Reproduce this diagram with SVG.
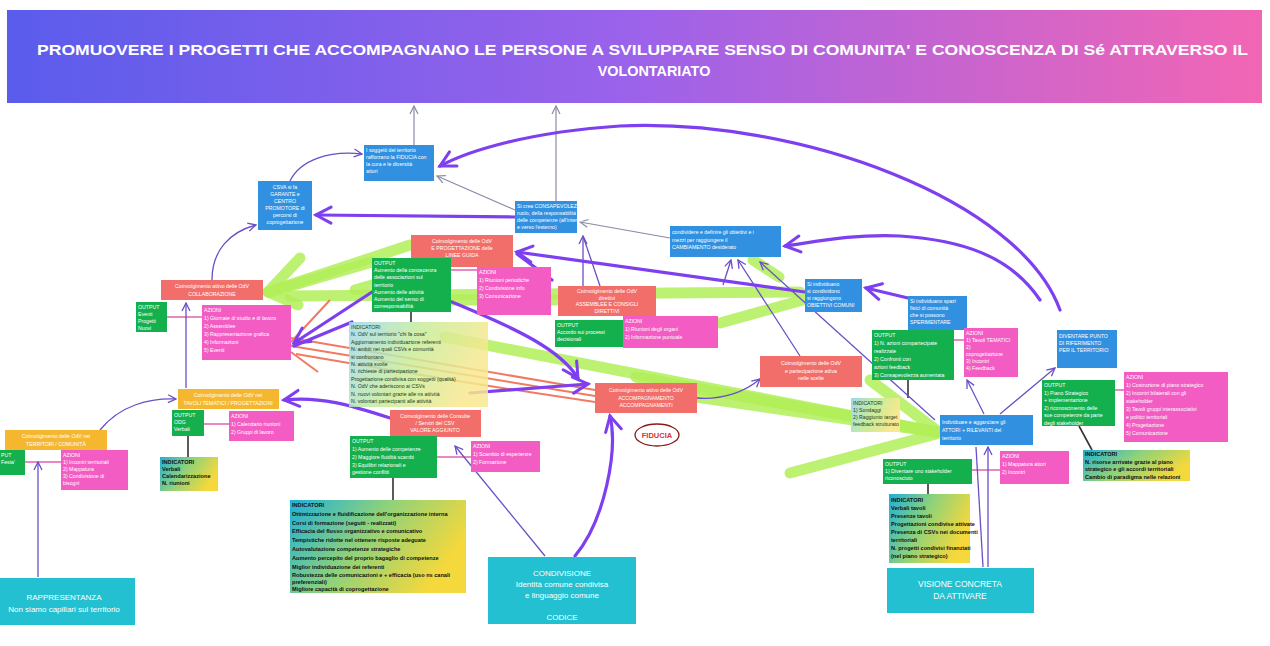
<svg xmlns="http://www.w3.org/2000/svg" width="1270" height="646" viewBox="0 0 1270 646">
<style>
.tw{font-family:"Liberation Sans",Arial,sans-serif;font-size:5.2px;fill:#fff}
.tk{font-family:"Liberation Sans",Arial,sans-serif;font-size:5.2px;fill:#1c3a20}
.tb{font-family:"Liberation Sans",Arial,sans-serif;font-size:5.6px;fill:#111;font-weight:bold}
.c{text-anchor:middle}
.blue{fill:#3190e0}.red{fill:#f26e6a}.org{fill:#f5b730}.grn{fill:#13b04d}.pnk{fill:#f35cc3}.teal{fill:#22c0d0}
.pt{fill:none;stroke:#7d3ff0;stroke-width:3.2;stroke-linecap:round}
.pn{fill:none;stroke:#6a4fc8;stroke-width:1.3}
.gy{fill:none;stroke:#8a8aa8;stroke-width:1.2}
.gr{fill:none;stroke:#b2ef58;stroke-width:11;stroke-linecap:round;opacity:.85}
.rd{fill:none;stroke:#f07a62;stroke-width:2}
.lk{stroke:#e060b0;stroke-width:1.5}
.dk{stroke:#333;stroke-width:1.6}
</style>
<defs>
<linearGradient id="hdr" x1="0" y1="0" x2="1" y2="0"><stop offset="0" stop-color="#5a5cec"/><stop offset="0.5" stop-color="#9c62ea"/><stop offset="1" stop-color="#f266b4"/></linearGradient>
<linearGradient id="ind" x1="0" y1="0" x2="1" y2="0.4"><stop offset="0" stop-color="#1fb0d8"/><stop offset="0.5" stop-color="#8fd27a"/><stop offset="1" stop-color="#f4d83c"/></linearGradient>
<linearGradient id="indl" x1="0" y1="0" x2="1" y2="0.3"><stop offset="0" stop-color="#9fd8ee"/><stop offset="0.5" stop-color="#c8ec9a"/><stop offset="1" stop-color="#f8e890"/></linearGradient>
<marker id="mb" viewBox="0 0 20 20" refX="17" refY="10" markerWidth="20" markerHeight="20" markerUnits="userSpaceOnUse" orient="auto"><path d="M2,2 L17,10 L2,18" fill="none" stroke="#7d3ff0" stroke-width="3" stroke-linecap="round"/></marker>
<marker id="ms" viewBox="0 0 10 10" refX="9" refY="5" markerWidth="10" markerHeight="10" markerUnits="userSpaceOnUse" orient="auto"><path d="M1,1 L9,5 L1,9" fill="none" stroke="#6a4fc8" stroke-width="1.3"/></marker>
<marker id="mg" viewBox="0 0 10 10" refX="9" refY="5" markerWidth="10" markerHeight="10" markerUnits="userSpaceOnUse" orient="auto"><path d="M1,1 L9,5 L1,9" fill="none" stroke="#8a8aa8" stroke-width="1.2"/></marker>
</defs>
<rect width="1270" height="646" fill="#fff"/>

<g id="header">
<rect x="7" y="10" width="1255" height="93" fill="url(#hdr)"/>
<text x="37" y="55" textLength="1211" lengthAdjust="spacingAndGlyphs" font-family="Liberation Sans, Arial, sans-serif" font-size="14.4" font-weight="bold" fill="#fff">PROMUOVERE I PROGETTI CHE ACCOMPAGNANO LE PERSONE A SVILUPPARE SENSO DI COMUNITA' E CONOSCENZA DI Sé ATTRAVERSO IL</text>
<text x="654" y="76" text-anchor="middle" font-family="Liberation Sans, Arial, sans-serif" font-size="14.4" font-weight="bold" fill="#fff">VOLONTARIATO</text>
</g>

<g id="connectors">
<path class="gr" d="M410,245 L268,292"/>
<path class="gr" d="M372,262 L270,292"/>
<path class="gr" d="M268,292 L300,258 M268,292 L298,305"/>
<path class="gr" d="M290,296 L800,292"/>
<path class="gr" d="M450,300 L555,300"/>
<path class="gr" d="M720,323 L803,300"/>
<path class="gr" d="M445,337 L936,432"/>
<path class="gr" d="M636,377 L936,432"/>
<path class="gr" d="M696,397 L936,432"/>
<path class="gr" d="M870,380 L936,430"/>
<path class="gr" d="M790,473 L936,434"/>
<path class="gr" d="M753,260 L779,277"/>
<path class="gr" d="M430,268 L355,290"/>
<path class="rd" d="M291,338 L595,390"/>
<path class="rd" d="M291,346 L595,396"/>
<path class="rd" d="M296,354 C400,372 500,388 595,402"/>
<path class="rd" d="M291,342 L330,300" stroke-width="3"/>
<path class="rd" d="M291,352 L318,372" stroke-width="3"/>
<line class="lk" x1="167" y1="317" x2="202" y2="317"/>
<line class="lk" x1="204" y1="424" x2="229" y2="424"/>
<line class="lk" x1="25" y1="462" x2="61" y2="462"/>
<line class="lk" x1="437" y1="457" x2="471" y2="457"/>
<line class="lk" x1="1115" y1="390" x2="1124" y2="390"/>
<line class="lk" x1="972" y1="470" x2="1000" y2="470"/>
<line class="lk" x1="451" y1="270" x2="477" y2="270"/>
<line class="lk" x1="954" y1="340" x2="964" y2="340"/>
<line class="dk" x1="411" y1="312" x2="411" y2="322"/>
<line class="dk" x1="188" y1="436" x2="188" y2="457"/>
<line class="dk" x1="393" y1="478" x2="393" y2="500"/>
<line class="dk" x1="1079" y1="426" x2="1092" y2="450" stroke-width="3"/>
<line class="dk" x1="928" y1="484" x2="928" y2="494"/>
<line class="dk" x1="908" y1="380" x2="908" y2="398"/>
<path class="gy" d="M414,145 L414,106" marker-end="url(#mg)"/>
<path class="gy" d="M556,201 L556,106" marker-end="url(#mg)"/>
<path class="gy" d="M515,210 L437,176" marker-end="url(#mg)"/>
<path class="gy" d="M670,238 L580,222" marker-end="url(#mg)"/>
<path class="pn" d="M583,286 L583,236" marker-end="url(#ms)"/>
<path class="pn" d="M600,286 L583,236"/>
<path class="pn" d="M800,356 L738,260" marker-end="url(#ms)"/>
<path class="pn" d="M723,285 L731,260" marker-end="url(#ms)"/>
<path class="pn" d="M935,420 L760,262" marker-end="url(#ms)"/>
<path class="pn" d="M1000,414 L1055,368" marker-end="url(#ms)"/>
<path class="pn" d="M984,414 L967,380" marker-end="url(#ms)"/>
<path class="pn" d="M697,398 C722,400 745,392 760,379" marker-end="url(#ms)"/>
<path class="pn" d="M290,181 C300,160 330,150 362,154" marker-end="url(#ms)" stroke-width="1.8"/>
<path class="pn" d="M212,280 C212,250 230,232 256,225" marker-end="url(#ms)" stroke-width="1.8"/>
<path class="pn" d="M186,388 L186,303" marker-end="url(#ms)" stroke-width="1.8"/>
<path class="pn" d="M100,430 C120,405 150,398 176,399" marker-end="url(#ms)" stroke-width="1.8"/>
<path class="pn" d="M38,577 L38,462" marker-end="url(#ms)" stroke-width="2"/>
<path class="pn" d="M988,567 L988,447" marker-end="url(#ms)" stroke-width="2"/>
<path class="pn" d="M983,567 L976,447" stroke-width="1.5"/>
<path class="pn" d="M545,556 L455,446" marker-end="url(#ms)" stroke-width="2"/>
<path class="pn" d="M640,310 L660,342"/>
<path class="pt" d="M1060,310 C1020,200 800,118 620,126 C530,132 470,150 440,166" marker-end="url(#mb)"/>
<path class="pt" d="M1040,300 C1010,255 960,240 900,236 C850,234 815,242 785,246" marker-end="url(#mb)"/>
<path class="pt" d="M515,217 L316,215" marker-end="url(#mb)"/>
<path class="pt" d="M805,292 L517,252" marker-end="url(#mb)" stroke-width="2.4"/>
<path class="pt" d="M552,280 L517,254" stroke-width="3"/>
<path class="pt" d="M908,298 L866,288" marker-end="url(#mb)"/>
<path class="pt" d="M452,302 C520,330 560,350 578,378" marker-end="url(#mb)"/>
<path class="pt" d="M470,393 L588,384" marker-end="url(#mb)"/>
<path class="pt" d="M372,292 L294,343" marker-end="url(#mb)"/>
<path class="pt" d="M352,322 L294,346"/>
<path class="pt" d="M390,418 C350,405 320,396 284,400" marker-end="url(#mb)" stroke-width="2.2"/>
<path class="pt" d="M575,556 C605,520 618,450 610,416" marker-end="url(#mb)" stroke-width="2.4"/>
</g>

<g id="n_csva"><rect class="blue" x="258" y="181" width="54" height="49"/>
<text class="tw c" x="285" y="189"><tspan x="285">CSVA si fa</tspan><tspan x="285" dy="7">GARANTE e</tspan><tspan x="285" dy="7">CENTRO</tspan><tspan x="285" dy="7">PROMOTORE di</tspan><tspan x="285" dy="7">percorsi di</tspan><tspan x="285" dy="7">coprogettazione</tspan></text></g>

<g id="n_soggetti"><rect class="blue" x="364" y="145" width="70" height="36"/>
<text class="tw" x="366" y="152"><tspan x="366">I soggetti del territorio</tspan><tspan x="366" dy="7">rafforzano la FIDUCIA con</tspan><tspan x="366" dy="7">la cura e le diversità</tspan><tspan x="366" dy="7">attori</tspan></text></g>

<g id="n_crea"><rect class="blue" x="515" y="201" width="62" height="32"/>
<text class="tw" x="517" y="208" font-size="3.9"><tspan x="517">Si crea CONSAPEVOLEZZA del</tspan><tspan x="517" dy="7">ruolo, della responsabilità e</tspan><tspan x="517" dy="7">delle competenze (all'interno</tspan><tspan x="517" dy="7">e verso l'esterno)</tspan></text></g>

<g id="n_condividere"><rect class="blue" x="670" y="226" width="111" height="31"/>
<text class="tw" x="672" y="234" font-size="5.6"><tspan x="672">condividere e definire gli obiettivi e i</tspan><tspan x="672" dy="7.5">mezzi per raggiungere il</tspan><tspan x="672" dy="7.5">CAMBIAMENTO desiderato</tspan></text></g>

<g id="n_obiettivi"><rect class="blue" x="805" y="279" width="57" height="33"/>
<text class="tw" x="807" y="286"><tspan x="807">Si individuano</tspan><tspan x="807" dy="7">si condividono</tspan><tspan x="807" dy="7">si raggiungono</tspan><tspan x="807" dy="7">OBIETTIVI COMUNI</tspan></text></g>

<g id="n_spazi"><rect class="blue" x="908" y="296" width="59" height="34"/>
<text class="tw" x="910" y="303"><tspan x="910">Si individuano spazi</tspan><tspan x="910" dy="7">fisici di comunità</tspan><tspan x="910" dy="7">che si possono</tspan><tspan x="910" dy="7">SPERIMENTARE</tspan></text></g>

<g id="n_diventare"><rect class="blue" x="1057" y="330" width="60" height="38"/>
<text class="tw" x="1059" y="338"><tspan x="1059">DIVENTARE PUNTO</tspan><tspan x="1059" dy="7">DI RIFERIMENTO</tspan><tspan x="1059" dy="7">PER IL TERRITORIO</tspan></text></g>

<g id="n_attori"><rect class="blue" x="940" y="415" width="93" height="30"/>
<text class="tw" x="942" y="424" font-size="5.8"><tspan x="942">Individuare e agganciare gli</tspan><tspan x="942" dy="8">ATTORI + RILEVANTI del</tspan><tspan x="942" dy="8">territorio</tspan></text></g>

<g id="r_collab"><rect class="red" x="161" y="280" width="102" height="20"/>
<text class="tw c" x="212" y="288"><tspan x="212">Coinvolgimento attivo delle OdV</tspan><tspan x="212" dy="7.5">COLLABORAZIONE</tspan></text></g>

<g id="r_linee"><rect class="red" x="411" y="235" width="102" height="32"/>
<text class="tw c" x="462" y="243"><tspan x="462">Coinvolgimento delle OdV</tspan><tspan x="462" dy="7">E PROGETTAZIONE delle</tspan><tspan x="462" dy="7">LINEE GUIDA</tspan></text></g>

<g id="r_direttivi"><rect class="red" x="558" y="286" width="98" height="30"/>
<text class="tw c" x="607" y="293"><tspan x="607">Coinvolgimento delle OdV</tspan><tspan x="607" dy="6.5">direttivi</tspan><tspan x="607" dy="6.5">ASSEMBLEE E CONSIGLI</tspan><tspan x="607" dy="6.5">DIRETTIVI</tspan></text></g>

<g id="r_scelte"><rect class="red" x="760" y="356" width="102" height="31"/>
<text class="tw c" x="811" y="365"><tspan x="811">Coinvolgimento delle OdV</tspan><tspan x="811" dy="7.5">e partecipazione attiva</tspan><tspan x="811" dy="7.5">nelle scelte</tspan></text></g>

<g id="r_accomp"><rect class="red" x="595" y="383" width="102" height="30"/>
<text class="tw c" x="646" y="392"><tspan x="646">Coinvolgimento attivo delle OdV</tspan><tspan x="646" dy="7.5">ACCOMPAGNAMENTO</tspan><tspan x="646" dy="7.5">ACCOMPAGNAMENTI</tspan></text></g>

<g id="r_valore"><rect class="red" x="390" y="410" width="91" height="27"/>
<text class="tw c" x="435" y="418"><tspan x="435">Coinvolgimento delle Consulte</tspan><tspan x="435" dy="7">/ Servizi del CSV</tspan><tspan x="435" dy="7">VALORE AGGIUNTO</tspan></text></g>

<g id="o_tavoli"><rect class="org" x="178" y="389" width="101" height="20"/>
<text class="tw c" x="228" y="397"><tspan x="228">Coinvolgimento delle OdV nei</tspan><tspan x="228" dy="7.5">TAVOLI TEMATICI / PROGETTAZIONI</tspan></text></g>

<g id="o_territori"><rect class="org" x="5" y="430" width="102" height="20"/>
<text class="tw c" x="56" y="438"><tspan x="56">Coinvolgimento delle OdV nei</tspan><tspan x="56" dy="7.5">TERRITORI / COMUNITÀ</tspan></text></g>

<g id="g_eventi"><rect class="grn" x="136" y="302" width="31" height="30"/>
<text class="tw" x="138" y="309"><tspan x="138">OUTPUT</tspan><tspan x="138" dy="7">Eventi</tspan><tspan x="138" dy="7">Progetti</tspan><tspan x="138" dy="7">Nuovi</tspan></text></g>

<g id="g_conoscenza"><rect class="grn" x="372" y="258" width="79" height="54"/>
<text class="tw" x="374" y="265"><tspan x="374">OUTPUT</tspan><tspan x="374" dy="7.2">Aumento della conoscenza</tspan><tspan x="374" dy="7.2">delle associazioni sul</tspan><tspan x="374" dy="7.2">territorio</tspan><tspan x="374" dy="7.2">Aumento delle attività</tspan><tspan x="374" dy="7.2">Aumento del senso di</tspan><tspan x="374" dy="7.2">corresponsabilità</tspan></text></g>

<g id="g_accordo"><rect class="grn" x="555" y="320" width="68" height="27"/>
<text class="tw" x="557" y="327"><tspan x="557">OUTPUT</tspan><tspan x="557" dy="7">Accordo sui processi</tspan><tspan x="557" dy="7">decisionali</tspan></text></g>

<g id="g_odg"><rect class="grn" x="172" y="410" width="32" height="26"/>
<text class="tw" x="174" y="417"><tspan x="174">OUTPUT</tspan><tspan x="174" dy="7">ODG</tspan><tspan x="174" dy="7">Verbali</tspan></text></g>

<g id="g_feste"><rect class="grn" x="0" y="450" width="25" height="25"/>
<text class="tw" x="1" y="457"><tspan x="1">PUT</tspan><tspan x="1" dy="7">Festa'</tspan></text></g>

<g id="g_competenze"><rect class="grn" x="350" y="436" width="87" height="42"/>
<text class="tw" x="352" y="443"><tspan x="352">OUTPUT</tspan><tspan x="352" dy="8">1) Aumento delle competenze</tspan><tspan x="352" dy="8">2) Maggiore fluidità scambi</tspan><tspan x="352" dy="8">3) Equilibri relazionali e</tspan><tspan x="352" dy="7">gestione conflitti</tspan></text></g>

<g id="g_azioni_comp"><rect class="grn" x="872" y="330" width="82" height="50"/>
<text class="tw" x="874" y="337"><tspan x="874">OUTPUT</tspan><tspan x="874" dy="8">1) N. azioni compartecipate</tspan><tspan x="874" dy="8">realizzate</tspan><tspan x="874" dy="8">2) Confronti con</tspan><tspan x="874" dy="8">azioni feedback</tspan><tspan x="874" dy="8">3) Consapevolezza aumentata</tspan></text></g>

<g id="g_piano"><rect class="grn" x="1042" y="380" width="73" height="46"/>
<text class="tw" x="1044" y="387"><tspan x="1044">OUTPUT</tspan><tspan x="1044" dy="7.5">1) Piano Strategico</tspan><tspan x="1044" dy="7.5">+ implementazione</tspan><tspan x="1044" dy="7.5">2) riconoscimento delle</tspan><tspan x="1044" dy="7.5">sue competenze da parte</tspan><tspan x="1044" dy="7.5">degli stakeholder</tspan></text></g>

<g id="g_stakeholder"><rect class="grn" x="883" y="459" width="89" height="25"/>
<text class="tw" x="885" y="466"><tspan x="885">OUTPUT</tspan><tspan x="885" dy="7">1) Diventare uno stakeholder</tspan><tspan x="885" dy="7">riconosciuto</tspan></text></g>

<g id="p_giornate"><rect class="pnk" x="202" y="305" width="89" height="55"/>
<text class="tw" x="204" y="312"><tspan x="204">AZIONI</tspan><tspan x="204" dy="8">1) Giornate di studio e di lavoro</tspan><tspan x="204" dy="8">2) Assemblee</tspan><tspan x="204" dy="8">3) Rappresentazione grafica</tspan><tspan x="204" dy="8">4) Informazioni</tspan><tspan x="204" dy="8">5) Eventi</tspan></text></g>

<g id="p_riunioni"><rect class="pnk" x="477" y="267" width="74" height="48"/>
<text class="tw" x="479" y="274"><tspan x="479">AZIONI</tspan><tspan x="479" dy="8">1) Riunioni periodiche</tspan><tspan x="479" dy="8">2) Condivisione info</tspan><tspan x="479" dy="8">3) Comunicazione</tspan></text></g>

<g id="p_organi"><rect class="pnk" x="623" y="316" width="95" height="32"/>
<text class="tw" x="625" y="323"><tspan x="625">AZIONI</tspan><tspan x="625" dy="8">1) Riunioni degli organi</tspan><tspan x="625" dy="8">2) Informazione puntuale</tspan></text></g>

<g id="p_calendario"><rect class="pnk" x="229" y="411" width="65" height="30"/>
<text class="tw" x="231" y="418"><tspan x="231">AZIONI</tspan><tspan x="231" dy="8">1) Calendario riunioni</tspan><tspan x="231" dy="8">2) Gruppi di lavoro</tspan></text></g>

<g id="p_mappatura"><rect class="pnk" x="61" y="450" width="67" height="40"/>
<text class="tw" x="63" y="457"><tspan x="63">AZIONI</tspan><tspan x="63" dy="7">1) Incontri territoriali</tspan><tspan x="63" dy="7">2) Mappatura</tspan><tspan x="63" dy="7">3) Condivisione di</tspan><tspan x="63" dy="7">bisogni</tspan></text></g>

<g id="p_scambio"><rect class="pnk" x="471" y="441" width="69" height="31"/>
<text class="tw" x="473" y="448"><tspan x="473">AZIONI</tspan><tspan x="473" dy="8">1) Scambio di esperienze</tspan><tspan x="473" dy="8">2) Formazione</tspan></text></g>

<g id="p_tavoli"><rect class="pnk" x="964" y="328" width="54" height="49"/>
<text class="tw" x="966" y="335"><tspan x="966">AZIONI</tspan><tspan x="966" dy="7">1) Tavoli TEMATICI</tspan><tspan x="966" dy="7">2)</tspan><tspan x="966" dy="7">coprogettazione</tspan><tspan x="966" dy="7">3) Incontri</tspan><tspan x="966" dy="7">4) Feedback</tspan></text></g>

<g id="p_strategico"><rect class="pnk" x="1124" y="372" width="104" height="70"/>
<text class="tw" x="1126" y="379"><tspan x="1126">AZIONI</tspan><tspan x="1126" dy="8">1) Costruzione di piano strategico</tspan><tspan x="1126" dy="8">2) Incontri bilaterali con gli</tspan><tspan x="1126" dy="8">stakeholder</tspan><tspan x="1126" dy="8">3) Tavoli gruppi interassociativi</tspan><tspan x="1126" dy="8">e politici territoriali</tspan><tspan x="1126" dy="8">4) Progettazione</tspan><tspan x="1126" dy="8">5) Comunicazione</tspan></text></g>

<g id="p_attori"><rect class="pnk" x="1000" y="451" width="69" height="33"/>
<text class="tw" x="1002" y="458"><tspan x="1002">AZIONI</tspan><tspan x="1002" dy="8">1) Mappatura attori</tspan><tspan x="1002" dy="8">2) Incontri</tspan></text></g>

<g id="i_grande"><rect x="349" y="322" width="139" height="85" fill="url(#indl)" opacity="0.85"/>
<text class="tk" x="351" y="329"><tspan x="351">INDICATORI</tspan><tspan x="351" dy="7.4">N. OdV sul territorio "chi fa cosa"</tspan><tspan x="351" dy="7.4">Aggiornamento individuazione referenti</tspan><tspan x="351" dy="7.4">N. ambiti nei quali CSVs e comunità</tspan><tspan x="351" dy="7.4">si confrontano</tspan><tspan x="351" dy="7.4">N. attività svolte</tspan><tspan x="351" dy="7.4">N. richieste di partecipazione</tspan><tspan x="351" dy="7.4">Progettazione condivisa con soggetti (qualità)</tspan><tspan x="351" dy="7.4">N. OdV che aderiscono ai CSVs</tspan><tspan x="351" dy="7.4">N. nuovi volontari grazie alle ns attività</tspan><tspan x="351" dy="7.4">N. volontari partecipanti alle attività</tspan></text></g>

<g id="i_verbali"><rect x="160" y="457" width="58" height="34" fill="url(#ind)"/>
<text class="tb" x="162" y="464" font-size="5.2"><tspan x="162">INDICATORI</tspan><tspan x="162" dy="7">Verbali</tspan><tspan x="162" dy="7">Calendarizzazione</tspan><tspan x="162" dy="7">N. riunioni</tspan></text></g>

<g id="i_organizzazione"><rect x="290" y="500" width="176" height="93" fill="url(#ind)"/>
<text class="tb" x="292" y="507"><tspan x="292">INDICATORI</tspan><tspan x="292" dy="8.8">Ottimizzazione e fluidificazione dell'organizzazione interna</tspan><tspan x="292" dy="8.8">Corsi di formazione (seguiti - realizzati)</tspan><tspan x="292" dy="8.8">Efficacia del flusso organizzativo e comunicativo</tspan><tspan x="292" dy="8.8">Tempistiche ridotte nel ottenere risposte adeguate</tspan><tspan x="292" dy="8.8">Autovalutazione competenze strategiche</tspan><tspan x="292" dy="8.8">Aumento percepito del proprio bagaglio di competenze</tspan><tspan x="292" dy="8.8">Miglior individuazione dei referenti</tspan><tspan x="292" dy="8.8">Robustezza delle comunicazioni e + efficacia (uso ns canali</tspan><tspan x="292" dy="6.5">preferenziali)</tspan><tspan x="292" dy="7.5">Migliore capacità di coprogettazione</tspan></text></g>

<g id="i_sondaggi"><rect x="851" y="398" width="49" height="34" fill="url(#indl)"/>
<text class="tk" x="853" y="405" font-size="4.8"><tspan x="853">INDICATORI</tspan><tspan x="853" dy="7">1) Sondaggi</tspan><tspan x="853" dy="7">2) Raggiunto target</tspan><tspan x="853" dy="7">feedback strutturato</tspan></text></g>

<g id="i_risorse"><rect x="1083" y="450" width="107" height="31" fill="url(#ind)"/>
<text class="tb" x="1085" y="456" font-size="5.2"><tspan x="1085">INDICATORI</tspan><tspan x="1085" dy="7.5">N. risorse arrivate grazie al piano</tspan><tspan x="1085" dy="7.5">strategico e gli accordi territoriali</tspan><tspan x="1085" dy="7.5">Cambio di paradigma nelle relazioni</tspan></text></g>

<g id="i_tavoli"><rect x="889" y="494" width="81" height="69" fill="url(#ind)"/>
<text class="tb" x="891" y="502" font-size="5.2"><tspan x="891">INDICATORI</tspan><tspan x="891" dy="8">Verbali tavoli</tspan><tspan x="891" dy="8">Presenze tavoli</tspan><tspan x="891" dy="8">Progettazioni condivise attivate</tspan><tspan x="891" dy="8">Presenza di CSVs nei documenti</tspan><tspan x="891" dy="8">territoriali</tspan><tspan x="891" dy="8">N. progetti condivisi finanziati</tspan><tspan x="891" dy="8">(nel piano strategico)</tspan></text></g>

<g id="t_rappresentanza"><rect class="teal" x="0" y="578" width="135" height="47"/>
<text x="64" y="600" text-anchor="middle" font-family="Liberation Sans, Arial, sans-serif" font-size="8" fill="#fff"><tspan x="64">RAPPRESENTANZA</tspan><tspan x="64" dy="12">Non siamo capillari sul territorio</tspan></text></g>

<g id="t_condivisione"><rect class="teal" x="488" y="557" width="148" height="67"/>
<text x="562" y="576" text-anchor="middle" font-family="Liberation Sans, Arial, sans-serif" font-size="8" fill="#fff"><tspan x="562">CONDIVISIONE</tspan><tspan x="562" dy="11">Identità comune condivisa</tspan><tspan x="562" dy="11">e linguaggio comune</tspan><tspan x="562" dy="22">CODICE</tspan></text></g>

<g id="t_visione"><rect class="teal" x="887" y="568" width="147" height="45"/>
<text x="960" y="587" text-anchor="middle" font-family="Liberation Sans, Arial, sans-serif" font-size="8.5" fill="#fff"><tspan x="960">VISIONE CONCRETA</tspan><tspan x="960" dy="12">DA ATTIVARE</tspan></text></g>

<g id="fiducia"><ellipse cx="657" cy="435" rx="22" ry="11" fill="none" stroke="#8a1a1a" stroke-width="1.3"/>
<text x="657" y="438" text-anchor="middle" font-family="Liberation Sans, Arial, sans-serif" font-size="7.5" font-weight="bold" fill="#d83030">FIDUCIA</text></g>
</svg>
